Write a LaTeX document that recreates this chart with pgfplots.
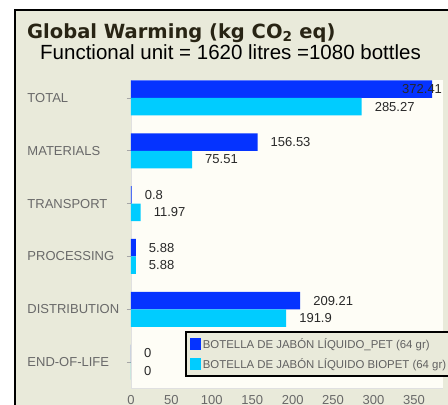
\documentclass[border=0pt]{standalone}
\usepackage{pgfplots}
\pgfplotsset{compat=1.18}
\usepackage{pgfplotstable}
\usepackage{fontspec}
\setmainfont{Liberation Sans}
\newfontfamily\titlefont{DejaVu Sans}
\definecolor{panel}{RGB}{233,234,218}
\definecolor{plotbg}{RGB}{254,253,246}
\definecolor{petblue}{RGB}{5,51,255}
\definecolor{biocyan}{RGB}{0,204,255}
\definecolor{tickgray}{RGB}{105,105,105}
\definecolor{valgray}{RGB}{40,40,40}
\definecolor{titlecol}{RGB}{40,36,20}

\pgfplotstableread{
y x lab sh
5 372.41 372.41 -30
4 156.53 156.53 13
3 0.8 0.8 13
2 5.88 5.88 13
1 209.21 209.21 13
0 0 0 13
}\pet
\pgfplotstableread{
y x lab sh
5 285.27 285.27 13
4 75.51 75.51 13
3 11.97 11.97 13
2 5.88 5.88 13
1 191.9 191.9 13
0 0 0 13
}\biopet

\begin{document}
\begin{tikzpicture}
\useasboundingbox (0,0) rectangle (448pt,-405pt);
\fill[white] (0,0) rectangle (448pt,-405pt);
\fill[panel] (15pt,-10.3pt) rectangle (470pt,-430pt);
\draw[black, line width=2pt] (15pt,-430pt) -- (15pt,-10.3pt) -- (470pt,-10.3pt);
\node[anchor=base west, inner sep=0pt, text=titlecol, font=\titlefont\bfseries\fontsize{19.5}{22}\selectfont] at (27pt,-38pt) {Global Warming (kg CO\textsubscript{2} eq)};
\node[anchor=base west, inner sep=0pt, font=\fontsize{20.5}{24}\selectfont] at (40pt,-59pt) {Functional unit = 1620 litres =1080 bottles};
\begin{axis}[
  at={(131pt,-388pt)}, anchor=south west,
  width=312pt, height=308pt, scale only axis,
  xbar, bar width=17.5pt,
  xmin=0, xmax=386, ymin=-0.49, ymax=5.34,
  axis background/.style={fill=plotbg},
  axis x line*=bottom, axis y line*=left,
  axis line style={draw=black!12},
  xtick={0,50,...,350},
  ytick={0,1,2,3,4,5},
  yticklabels={END-OF-LIFE,DISTRIBUTION,PROCESSING,TRANSPORT,MATERIALS,TOTAL},
  tick align=outside, major tick length=4pt,
  xtick style={draw=none},
  ytick style={draw=black!35, line width=0.8pt},
  /pgf/number format/assume math mode=true,
  ticklabel style={font=\fontsize{13}{15}\selectfont, text=tickgray},
  yticklabel style={text width=96pt, align=left},
  point meta=explicit symbolic,
  nodes near coords,
  visualization depends on={\thisrow{sh} \as \myshift},
  nodes near coords style={anchor=west, inner sep=0pt, xshift=\myshift pt, font=\fontsize{13}{15}\selectfont, text=valgray},
  legend cell align=left,
  legend image code/.code={\fill[#1,draw=none] (0pt,-6pt) rectangle (11pt,6pt);},
  legend style={at={(0.173,0.185)}, anchor=north west, draw=black, line width=1.8pt,
    fill=panel, font=\fontsize{11.4}{13}\selectfont, text=black!62, row sep=4.5pt,
    inner xsep=4pt, inner ysep=4.5pt},
]
\addplot[fill=petblue, draw=none, bar shift=8.75pt] table[x=x, y=y, meta=lab] {\pet};
\addplot[fill=biocyan, draw=none, bar shift=-8.75pt] table[x=x, y=y, meta=lab] {\biopet};
\legend{BOTELLA DE JABÓN LÍQUIDO\_PET (64 gr),BOTELLA DE JABÓN LÍQUIDO BIOPET (64 gr)}
\end{axis}
\end{tikzpicture}
\end{document}
